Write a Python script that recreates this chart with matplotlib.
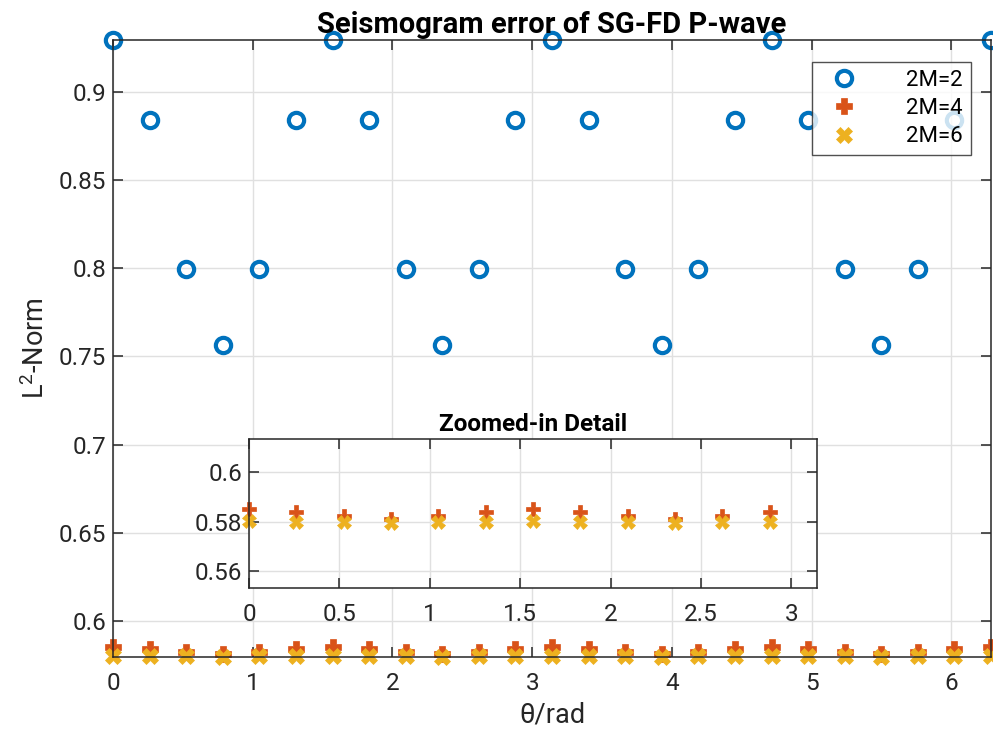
import numpy as np
import matplotlib
matplotlib.use("Agg")
import matplotlib.pyplot as plt

plt.rcParams["font.family"] = ["Roboto", "DejaVu Sans"]
plt.rcParams["mathtext.fontset"] = "custom"
plt.rcParams["mathtext.rm"] = "Roboto"
plt.rcParams["mathtext.default"] = "regular"

# angles, 15 degree steps from 0 to 2*pi
theta = np.deg2rad(np.arange(0, 361, 15))

err_2m2 = [0.9294, 0.8843, 0.7994, 0.7566, 0.7994, 0.8843,
           0.9294, 0.8843, 0.7994, 0.7566, 0.7994, 0.8843,
           0.9294, 0.8843, 0.7994, 0.7566, 0.7994, 0.8843,
           0.9294, 0.8843, 0.7994, 0.7566, 0.7994, 0.8843,
           0.9294]
err_2m4 = [0.5850, 0.5840, 0.5823, 0.5811, 0.5823, 0.5840,
           0.5850, 0.5840, 0.5823, 0.5811, 0.5823, 0.5840,
           0.5850, 0.5840, 0.5823, 0.5811, 0.5823, 0.5840,
           0.5850, 0.5840, 0.5823, 0.5811, 0.5823, 0.5840,
           0.5850]
err_2m6 = [0.5801, 0.5800, 0.5798, 0.5795, 0.5798, 0.5800,
           0.5801, 0.5800, 0.5798, 0.5795, 0.5798, 0.5800,
           0.5801, 0.5800, 0.5798, 0.5795, 0.5798, 0.5800,
           0.5801, 0.5800, 0.5798, 0.5795, 0.5798, 0.5800,
           0.5801]
labels = ["2M=2", "2M=4", "2M=6"]
n_zoom = 12  # points shown in the inset (0 .. 11*pi/12)

BLUE, ORANGE, YELLOW = "#0072BD", "#D95319", "#EDB120"
AX_COL = "#262626"
GRID_COL = "#E0E0E0"
TICK_FS = 17.5


def style(ax):
    for s in ax.spines.values():
        s.set_color(AX_COL)
        s.set_linewidth(1.1)
    ax.tick_params(direction="in", length=7, width=1.1, color=AX_COL,
                   labelcolor=AX_COL, labelsize=TICK_FS, top=True, right=True)
    ax.tick_params(axis="x", pad=10.5)
    ax.tick_params(axis="y", pad=5)
    ax.grid(True, color=GRID_COL, lw=1.0)
    ax.set_axisbelow(True)


def draw(ax, n, ms, circles=True):
    if circles:
        ax.plot(theta[:n], err_2m2[:n], ls="none", marker="o", ms=ms,
                mfc="none", mec=BLUE, mew=3.0, clip_on=False, label=labels[0])
    ax.plot(theta[:n], err_2m4[:n], ls="none", marker="P", ms=ms, mfc=ORANGE,
            mec=ORANGE, mew=0.5, clip_on=False, label=labels[1])
    ax.plot(theta[:n], err_2m6[:n], ls="none", marker="X", ms=ms, mfc=YELLOW,
            mec=YELLOW, mew=0.5, clip_on=False, label=labels[2])


fig = plt.figure(figsize=(9.93, 7.33), dpi=100)
ax = fig.add_axes([113 / 993, 76 / 733, 878 / 993, 617 / 733])
style(ax)
draw(ax, len(theta), 11)
ax.set_xlim(0, 2 * np.pi)
ax.set_ylim(min(err_2m6), max(err_2m2))
ax.set_xticks(range(7))
ax.set_yticks([0.6, 0.65, 0.7, 0.75, 0.8, 0.85, 0.9])
ax.set_yticklabels(["0.6", "0.65", "0.7", "0.75", "0.8", "0.85", "0.9"])
ax.set_xlabel("θ/rad", fontsize=19.5, color=AX_COL, labelpad=5)
ax.set_ylabel("L$^2$-Norm", fontsize=19.5, color=AX_COL, labelpad=6)
ax.set_title("Seismogram error of SG-FD P-wave", fontsize=21,
             fontweight="bold", pad=5)
leg = ax.legend(loc="upper right", bbox_to_anchor=(971 / 993, 1 - 62 / 733),
                bbox_transform=fig.transFigure, fontsize=16, frameon=True,
                fancybox=False, edgecolor=AX_COL, handlelength=2.2,
                handletextpad=1.7, borderpad=0.35, labelspacing=0.33,
                borderaxespad=0)
leg.get_frame().set_linewidth(1.0)

axin = fig.add_axes([249 / 993, (733 - 588) / 733, 568 / 993, 149 / 733])
style(axin)
draw(axin, n_zoom, 10, circles=False)
axin.set_xlim(0, np.pi)
axin.set_ylim(0.5531, 0.6135)
axin.set_xticks([0, 0.5, 1, 1.5, 2, 2.5, 3])
axin.set_xticklabels(["0", "0.5", "1", "1.5", "2", "2.5", "3"])
axin.set_yticks([0.56, 0.58, 0.6])
axin.set_yticklabels(["0.56", "0.58", "0.6"])
axin.set_title("Zoomed-in Detail", fontsize=17.5, fontweight="bold", pad=6)

fig.savefig("out.png", dpi=100)
